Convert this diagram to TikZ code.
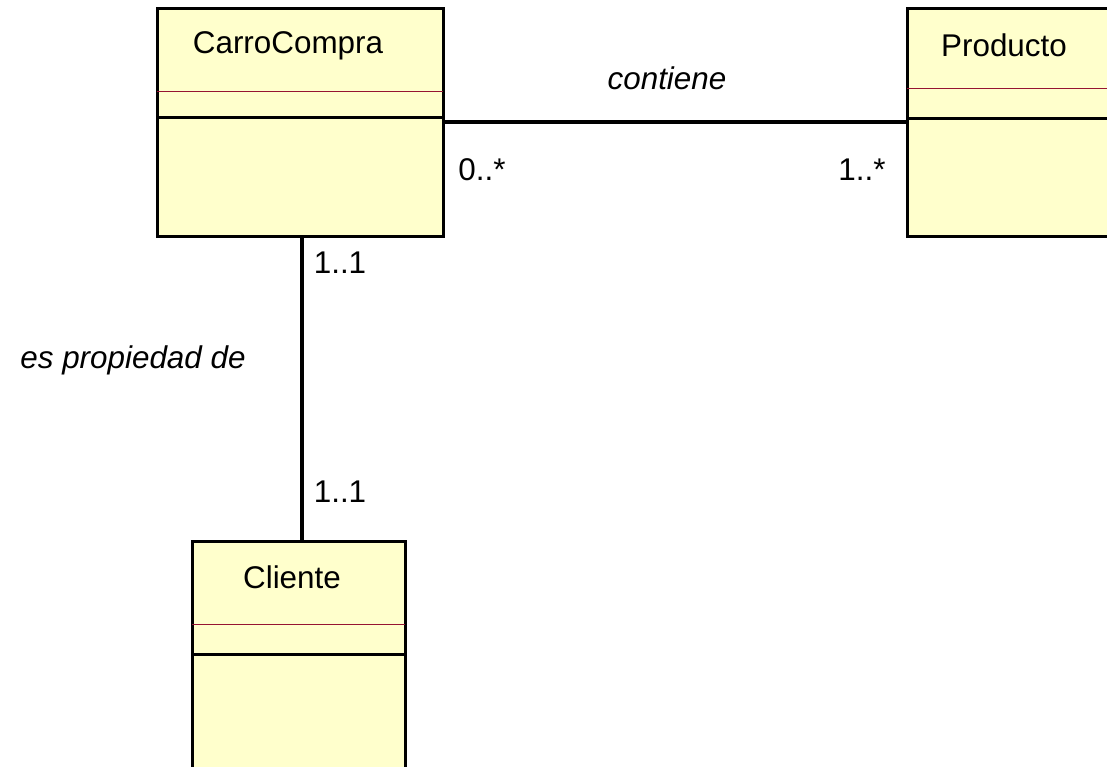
\documentclass[tikz,border=0pt]{standalone}
\usepackage{fontspec}
\setmainfont{Liberation Sans}
\usetikzlibrary{calc}
\definecolor{classfill}{RGB}{255,255,204}
\definecolor{attrred}{RGB}{150,20,50}
\tikzset{
  classbox/.style={draw=black, line width=1.5pt, fill=classfill, rectangle,
    inner sep=0pt, outer sep=0pt},
  attrline/.style={draw=attrred, line width=0.45pt},
  opline/.style={draw=black, line width=1.5pt},
  assoc/.style={draw=black, line width=1.6pt},
  title/.style={font=\fontsize{15.7}{18}\selectfont, inner sep=0pt},
  mult/.style={font=\fontsize{15.7}{18}\selectfont, inner sep=0pt},
  rolename/.style={font=\fontsize{15.7}{18}\selectfont\itshape, inner sep=0pt}
}
\begin{document}
\begin{tikzpicture}[x=0.5pt, y=-0.5pt]
  \useasboundingbox (0,0) rectangle (1107,766);
  \clip (0,0) rectangle (1107,766);
  \fill[white] (0,0) rectangle (1107,766);

  % class boxes
  \node[classbox, minimum width=143pt, minimum height=114pt] (carro) at (300,122) {};
  \node[classbox, minimum width=150pt, minimum height=114pt] (prod) at (1057,122) {};
  \node[classbox, minimum width=106.5pt, minimum height=150pt] (cliente) at (298.5,691) {};

  % compartments: attributes (thin) and operations (thick)
  \draw[attrline] ($(carro.north west)+(0,83)$) -- ($(carro.north east)+(0,83)$);
  \draw[opline]   ($(carro.north west)+(0,109)$) -- ($(carro.north east)+(0,109)$);
  \draw[attrline] ($(prod.north west)+(0,80)$) -- ($(prod.north east)+(0,80)$);
  \draw[opline]   ($(prod.north west)+(0,110)$) -- ($(prod.north east)+(0,110)$);
  \draw[attrline] ($(cliente.north west)+(0,83)$) -- ($(cliente.north east)+(0,83)$);
  \draw[opline]   ($(cliente.north west)+(0,113)$) -- ($(cliente.north east)+(0,113)$);

  % class names
  \node[title] (tcarro) at (288,46) {CarroCompra};
  \node[title] (tprod) at (1004,45) {Producto};
  \node[title] (tcliente) at (292,577) {Cliente};

  % associations
  \draw[assoc] (carro.east) -- (prod.west);
  \coordinate (vx) at (302,0);
  \draw[assoc] (carro.south -| vx) -- (cliente.north -| vx);

  % association names and multiplicities
  \node[rolename] (contiene) at (667,78) {contiene};
  \node[rolename] (propiedad) at (133,360) {es propiedad de};
  \node[mult] (m1) at (482,170) {0..*};
  \node[mult] (m2) at (862,170) {1..*};
  \node[mult] (m3) at (340,263) {1..1};
  \node[mult] (m4) at (340,492) {1..1};
\end{tikzpicture}
\end{document}
